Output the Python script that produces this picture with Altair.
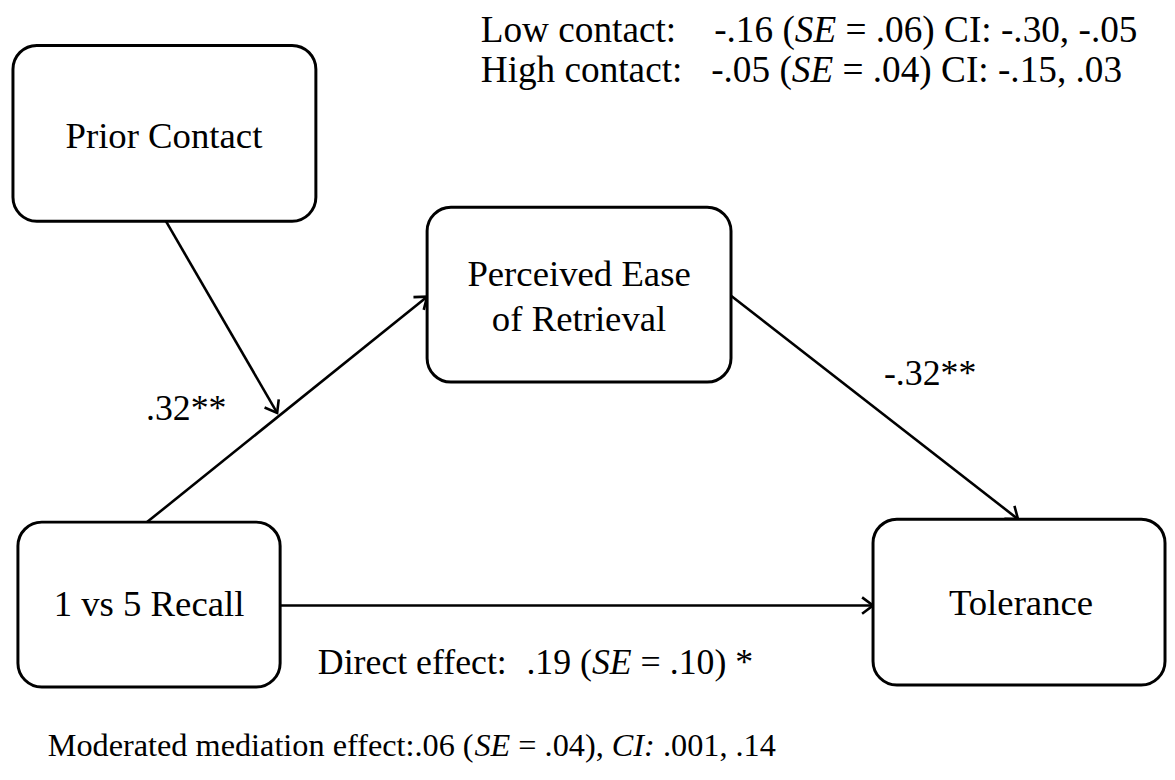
import math
import altair as alt
import pandas as pd

# ---------------- data ----------------
box_x1 = [13, 430, 18, 879]
box_x2 = [318, 736, 282, 1173]
box_y1 = [43, 206, 523, 520]
box_y2 = [220, 382, 689, 687]

label_text = ["Prior Contact", "Perceived Ease", "of Retrieval", "1 vs 5 Recall", "Tolerance"]
label_x = [165, 583, 583, 150, 1028]
label_y = [146, 285, 331, 618, 617]

arrow_x1 = [167, 148, 736, 282]
arrow_y1 = [220, 523, 295, 607]
arrow_x2 = [279, 430, 1025, 879]
arrow_y2 = [413, 296, 520, 607]

coef_text = [".32**", "-.32**"]
coef_x = [147, 890]
coef_y = [420, 385]

# text lines: segments (text, italic), start x, baseline y, font size
lines = [
    ([("Low contact:", False)], 484, 40, 37.5),
    ([("-.16 (", False), ("SE", True), (" = .06) CI: -.30, -.05", False)], 719, 40, 37.5),
    ([("High contact:", False)], 484, 80, 37.5),
    ([("-.05 (", False), ("SE", True), (" = .04) CI: -.15, .03", False)], 716, 80, 37.5),
    ([("Direct effect:", False)], 320, 676, 36),
    ([(".19 (", False), ("SE", True), (" = .10) *", False)], 530, 676, 36),
    ([("Moderated mediation effect:.06 (", False), ("SE", True), (" = .04), ", False),
      ("CI:", True), (" .001, .14", False)], 48, 758, 32.5),
]

BOX_FS = 37
FONT = "Liberation Serif"
W, H = 1167, 772

# Times / Liberation Serif advance widths (per 1000 em)
REG = {' ': 250, '(': 333, ')': 333, '*': 500, ',': 250, '-': 333, '.': 250, ':': 278, '=': 564,
       'C': 667, 'D': 722, 'E': 611, 'H': 722, 'I': 333, 'L': 611, 'M': 889, 'S': 556,
       'a': 444, 'c': 444, 'd': 500, 'e': 444, 'f': 333, 'g': 500, 'h': 500, 'i': 278, 'l': 278,
       'm': 778, 'n': 500, 'o': 500, 'r': 333, 't': 278, 'w': 722, 'v': 500, 's': 389}
for d in "0123456789":
    REG[d] = 500
ITA = {'S': 500, 'E': 611, 'C': 667, 'I': 333, ':': 333}


def seg_width(s, italic, fs):
    table = ITA if italic else REG
    return sum(table.get(ch, REG.get(ch, 500)) for ch in s) * fs / 1000.0


rows = []
for segs, x0, y0, fs in lines:
    x = x0
    for s, it in segs:
        lead = s[: len(s) - len(s.lstrip(" "))]
        body = s.strip(" ")
        rows.append({"t": body, "x": x + seg_width(lead, False, fs), "y": y0,
                     "style": "italic" if it else "normal", "fs": fs})
        x += seg_width(s, it, fs)
seg_df = pd.DataFrame(rows)

boxes = pd.DataFrame({"x1": box_x1, "x2": box_x2, "y1": box_y1, "y2": box_y2})
labels = pd.DataFrame({"t": label_text, "x": label_x, "y": label_y})
arrows = pd.DataFrame({"x1": arrow_x1, "y1": arrow_y1, "x2": arrow_x2, "y2": arrow_y2})
arrows["angle"] = [
    math.degrees(math.atan2(b - a, d - c)) % 360
    for a, b, c, d in zip(arrow_y1, arrow_y2, arrow_x1, arrow_x2)
]
coefs = pd.DataFrame({"t": coef_text, "x": coef_x, "y": coef_y})

xs = alt.Scale(domain=[8, 8 + W], nice=False, zero=False)
ys = alt.Scale(domain=[8, 8 + H], nice=False, zero=False, reverse=True)

X = lambda f: alt.X(f, type="quantitative", scale=xs, axis=None)
Y = lambda f: alt.Y(f, type="quantitative", scale=ys, axis=None)

rules = alt.Chart(arrows).mark_rule(color="black", strokeWidth=2.6).encode(
    x=X("x1"), y=Y("y1"), x2="x2", y2="y2")

heads = alt.Chart(arrows).mark_point(
    shape="M-1,-0.75L0,0L-1,0.75", filled=False, color="black", strokeWidth=2.6,
    size=484, opacity=1).encode(
    x=X("x2"), y=Y("y2"), angle=alt.Angle("angle:Q", scale=None))

rects = alt.Chart(boxes).mark_rect(
    cornerRadius=24, fill="white", stroke="black", strokeWidth=3).encode(
    x=X("x1"), x2="x2", y=Y("y1"), y2="y2")

box_text = alt.Chart(labels).mark_text(
    font=FONT, fontSize=BOX_FS, align="center", baseline="alphabetic", color="black").encode(
    x=X("x"), y=Y("y"), text="t:N")

coef_layer = alt.Chart(coefs).mark_text(
    font=FONT, fontSize=36, align="left", baseline="alphabetic", color="black").encode(
    x=X("x"), y=Y("y"), text="t:N")

reg_text = alt.Chart(seg_df).transform_filter(alt.datum.style == "normal").mark_text(
    font=FONT, align="left", baseline="alphabetic", color="black").encode(
    x=X("x"), y=Y("y"), text="t:N", size=alt.Size("fs:Q", scale=None, legend=None))

ita_text = alt.Chart(seg_df).transform_filter(alt.datum.style == "italic").mark_text(
    font=FONT, fontStyle="italic", align="left", baseline="alphabetic",
    color="black").encode(x=X("x"), y=Y("y"), text="t:N",
                          size=alt.Size("fs:Q", scale=None, legend=None))

chart = alt.layer(rules, heads, rects, box_text, coef_layer, reg_text, ita_text).properties(
    width=W, height=H, padding=0, autosize=alt.AutoSizeParams(type="none"),
    background="white").configure_view(stroke=None)

chart.save("out.html", embed_options={"renderer": "svg", "actions": False})
